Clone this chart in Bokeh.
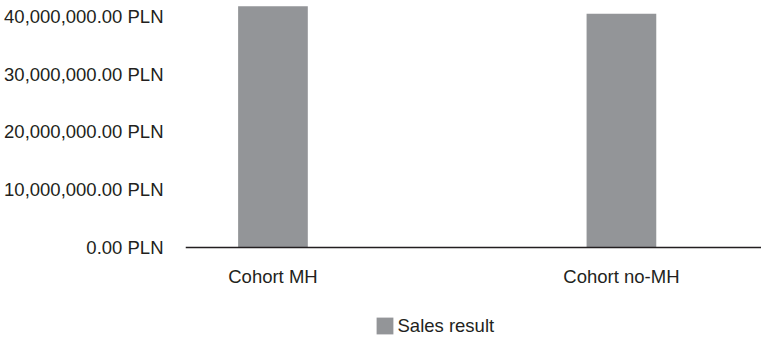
from bokeh.plotting import figure
from bokeh.models import Range1d, FixedTicker, Legend, LegendItem, ColumnDataSource
from bokeh.embed import file_html
from bokeh.resources import INLINE

categories = ["Cohort MH", "Cohort no-MH"]
sales = [41_800_000, 40_500_000]
y_ticks = [0, 10_000_000, 20_000_000, 30_000_000, 40_000_000]
y_labels = ["0.00 PLN", "10,000,000.00 PLN", "20,000,000.00 PLN", "30,000,000.00 PLN", "40,000,000.00 PLN"]
series_name = "Sales result"

xs = [i + 0.5 for i in range(len(categories))]
src = ColumnDataSource(dict(x=xs, top=sales, cat=categories))

FONT = "Liberation Sans"
FS = "18.5px"
TXT = "#231f20"
BAR = "#939598"

p = figure(width=761, height=340, output_backend="svg", toolbar_location=None,
           x_range=Range1d(0.249, 1.902), y_range=Range1d(-16_230_000, 42_800_000),
           min_border_left=185, min_border_right=0, min_border_top=0, min_border_bottom=0)
p.outline_line_color = None
p.grid.visible = False
p.background_fill_color = "white"

r = p.vbar(x="x", top="top", width=0.2, bottom=0, source=src, fill_color=BAR, line_color=None)

p.xaxis.fixed_location = 0
p.xaxis.ticker = FixedTicker(ticks=xs)
p.xaxis.major_label_overrides = {x: c for x, c in zip(xs, categories)}
p.xaxis.major_tick_line_color = None
p.xaxis.major_tick_out = 0
p.xaxis.major_tick_in = 0
p.xaxis.minor_tick_line_color = None
p.xaxis.axis_line_color = "#231f20"
p.xaxis.axis_line_width = 1.5
p.xaxis.major_label_standoff = 19
p.xaxis.major_label_text_font = FONT
p.xaxis.major_label_text_font_size = FS
p.xaxis.major_label_text_color = TXT

p.yaxis.ticker = FixedTicker(ticks=y_ticks)
p.yaxis.major_label_overrides = {t: l for t, l in zip(y_ticks, y_labels)}
p.yaxis.axis_line_color = None
p.yaxis.major_tick_line_color = None
p.yaxis.major_tick_out = 0
p.yaxis.major_tick_in = 0
p.yaxis.minor_tick_line_color = None
p.yaxis.major_label_standoff = 22
p.yaxis.major_label_text_font = FONT
p.yaxis.major_label_text_font_size = FS
p.yaxis.major_label_text_color = TXT

legend = Legend(items=[LegendItem(label=series_name, renderers=[r])],
                location=(188.5, 3.5), orientation="horizontal",
                padding=0, margin=0, border_line_color=None, background_fill_alpha=0,
                glyph_width=21, glyph_height=21, label_standoff=3,
                label_text_font=FONT, label_text_font_size=FS, label_text_color=TXT)
p.add_layout(legend, "center")

open("out.html", "w").write(file_html(p, INLINE))
